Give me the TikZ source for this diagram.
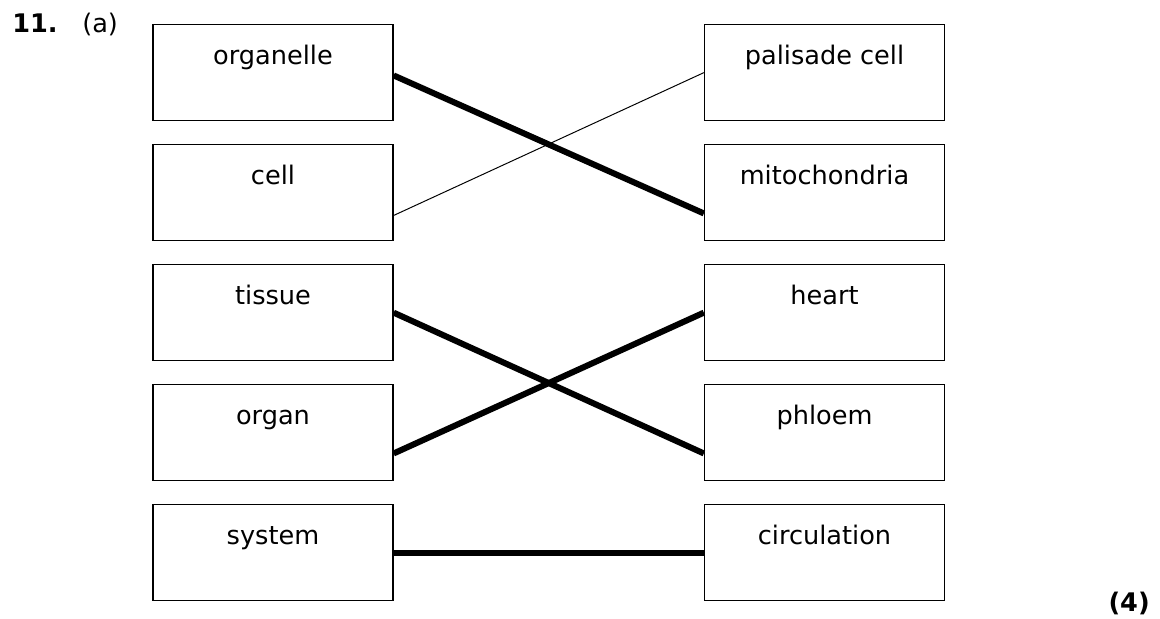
\documentclass[tikz,border=0pt]{standalone}
\usepackage{fontspec}
\setmainfont{DejaVu Sans}
\usetikzlibrary{positioning}

\tikzset{
	box/.style={draw=black, line width=0.9pt, anchor=north, inner xsep=0pt, inner ysep=0pt,
		minimum width=6cm, text height=1cm, text depth=1.4cm},
	match/.style={line width=4.3pt},
	thin match/.style={line width=0.7pt}
}

\begin{document}
\begin{tikzpicture}[x=0.025cm, y=-0.025cm, font=\fontsize{18.2}{22}\selectfont]
	\useasboundingbox (0,0) rectangle (1160,619);
	
	%left boxes
	\node[box] (organelle) at (273,24)  {organelle};
	\node[box] (cell)      at (273,144) {cell};
	\node[box] (tissue)    at (273,264) {tissue};
	\node[box] (organ)     at (273,384) {organ};
	\node[box] (system)    at (273,504) {system};
	
	%right boxes
	\node[box] (palisade)  at (824.5,24)  {palisade cell};
	\node[box] (mito)      at (824.5,144) {mitochondria};
	\node[box] (heart)     at (824.5,264) {heart};
	\node[box] (phloem)    at (824.5,384) {phloem};
	\node[box] (circ)      at (824.5,504) {circulation};
	
	%matching lines
	\draw[match] ([yshift=-0.07cm]organelle.east) -- ([yshift=-0.52cm]mito.west);
	\draw[thin match] ([yshift=-0.57cm]cell.east) -- (palisade.west);
	\draw[match] (tissue.east) -- ([yshift=-0.52cm]phloem.west);
	\draw[match] ([yshift=-0.52cm]organ.east) -- (heart.west);
	\draw[match] (system.east) -- (circ.west);
	
	%labels
	\node[anchor=base west, inner sep=0pt] (qnum) at (12,32) {\bfseries 11.};
	\node[anchor=base west, inner sep=0pt] (part) at (82,32) {(a)};
	\node[anchor=base east, inner sep=0pt] (marks) at (1150,611) {\bfseries (4)};
\end{tikzpicture}
\end{document}
